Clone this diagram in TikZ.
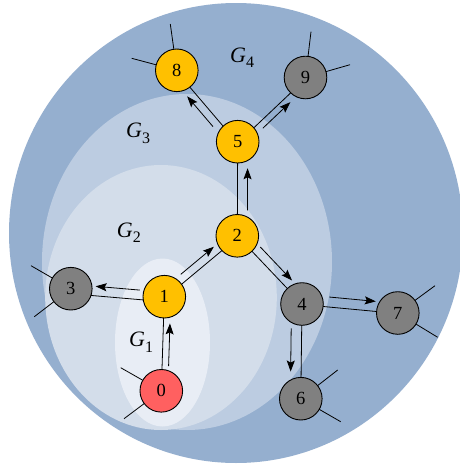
\documentclass[tikz,border=0pt]{standalone}
\usepackage{fontspec}
\setmainfont{Liberation Serif}
\usetikzlibrary{calc,arrows.meta}
\pgfdeclarelayer{bg}
\pgfdeclarelayer{edgelayer}
\pgfsetlayers{bg,edgelayer,main}
\definecolor{gfour}{HTML}{95AFCF}
\definecolor{gthree}{HTML}{BCCCE1}
\definecolor{gtwo}{HTML}{D3DDEA}
\definecolor{gone}{HTML}{E8EDF5}
\definecolor{nyellow}{HTML}{FFC000}
\definecolor{nred}{HTML}{FF6060}
\definecolor{ngray}{HTML}{808080}
% #1 from, #2 to, #3 line offset (left +), #4 arrow offset (left +), #5 start dist, #6 end dist
\newcommand\duoedge[6]{%
  \draw[edgeline] ($(#1.center)!#3!90:(#2.center)$) -- ($(#2.center)!#3!-90:(#1.center)$);
  \draw[edgearrow] ($(#1.center)!#5!(#2.center)!#4!90:(#2.center)$) -- ($(#2.center)!#6!(#1.center)!#4!-90:(#1.center)$);
}
\begin{document}
\begin{tikzpicture}[x=1pt,y=-1pt,
  vertex/.style={circle,draw=black,line width=0.9pt,minimum size=42.6pt,inner sep=0pt,
    font=\fontsize{18.5}{19}\selectfont},
  yv/.style={vertex,fill=nyellow},
  rv/.style={vertex,fill=nred},
  gv/.style={vertex,fill=ngray},
  edgeline/.style={draw=black,line width=0.8pt},
  edgearrow/.style={draw=black,line width=0.8pt,-{Stealth[length=11pt,width=8pt,inset=2pt]}},
  stub/.style={draw=black,line width=0.8pt},
  lab/.style={inner sep=0pt,font=\fontsize{22}{22}\selectfont},
]
\clip (0,0) rectangle (459,464);

\begin{pgfonlayer}{bg}
  \fill[white] (-2,-2) rectangle (461,466);
  \fill[gfour] (236,233) ellipse [x radius=227pt, y radius=230pt];
  \fill[gthree] (187,262) ellipse [x radius=145pt, y radius=168pt];
  \fill[gtwo] (161,297.5) ellipse [x radius=115.8pt, y radius=132.5pt];
  \fill[gone] (162.5,342.5) ellipse [x radius=47.5pt, y radius=84pt];
\end{pgfonlayer}

% vertices
\node[rv] (n0) at (161.3,390.8) {0};
\node[yv] (n1) at (164.3,296.7) {1};
\node[yv] (n2) at (237.3,235.8) {2};
\node[gv] (n3) at (70.8,288.7) {3};
\node[gv] (n4) at (302,304) {4};
\node[yv] (n5) at (237.7,141.7) {5};
\node[gv] (n6) at (300.8,398.7) {6};
\node[gv] (n7) at (397.8,313) {7};
\node[yv] (n8) at (176.8,70.3) {8};
\node[gv] (n9) at (305.5,77.5) {9};

% labels
\node[lab,anchor=base west] (g4) at (230,62.3) {\textit{G}\raisebox{-5.5pt}{\fontsize{16}{16}\selectfont 4}};
\node[lab,anchor=base west] (g3) at (126,137.7) {\textit{G}\raisebox{-5.5pt}{\fontsize{16}{16}\selectfont 3}};
\node[lab,anchor=base west] (g2) at (116.7,237.3) {\textit{G}\raisebox{-5.5pt}{\fontsize{16}{16}\selectfont 2}};
\node[lab,anchor=base west] (g1) at (129,346.5) {\textit{G}\raisebox{-5.5pt}{\fontsize{16}{16}\selectfont 1}};

% stub ends
\coordinate (s0a) at (120.7,367.7);
\coordinate (s0b) at (124,418.7);
\coordinate (s3a) at (31,265.7);
\coordinate (s3b) at (34.3,316.7);
\coordinate (s8a) at (170.3,24);
\coordinate (s8b) at (131.7,58.3);
\coordinate (s9a) at (311,31.7);
\coordinate (s9b) at (350,64.7);
\coordinate (s7a) at (435,285.7);
\coordinate (s7b) at (437.7,337.3);
\coordinate (s6a) at (337.7,370);
\coordinate (s6b) at (340.7,421.7);

\begin{pgfonlayer}{edgelayer}
  \duoedge{n0}{n1}{0pt}{-6.5pt}{25pt}{26.5pt}
  \duoedge{n1}{n3}{5pt}{-4.5pt}{25pt}{24.5pt}
  \duoedge{n1}{n2}{-1.5pt}{6.6pt}{27pt}{25pt}
  \duoedge{n2}{n5}{0pt}{-10pt}{25.5pt}{26.5pt}
  \duoedge{n5}{n8}{1pt}{9pt}{27.5pt}{26.5pt}
  \duoedge{n5}{n9}{-1pt}{-7.5pt}{27.5pt}{28pt}
  \duoedge{n2}{n4}{0pt}{9pt}{24pt}{24pt}
  \duoedge{n4}{n7}{-0.5pt}{9.5pt}{26.5pt}{23pt}
  \duoedge{n4}{n6}{0pt}{-10.5pt}{24.5pt}{27pt}
  \draw[stub] (n0.center) -- (s0a);
  \draw[stub] (n0.center) -- (s0b);
  \draw[stub] (n3.center) -- (s3a);
  \draw[stub] (n3.center) -- (s3b);
  \draw[stub] (n8.center) -- (s8a);
  \draw[stub] (n8.center) -- (s8b);
  \draw[stub] (n9.center) -- (s9a);
  \draw[stub] (n9.center) -- (s9b);
  \draw[stub] (n7.center) -- (s7a);
  \draw[stub] (n7.center) -- (s7b);
  \draw[stub] (n6.center) -- (s6a);
  \draw[stub] (n6.center) -- (s6b);
\end{pgfonlayer}
\end{tikzpicture}
\end{document}
